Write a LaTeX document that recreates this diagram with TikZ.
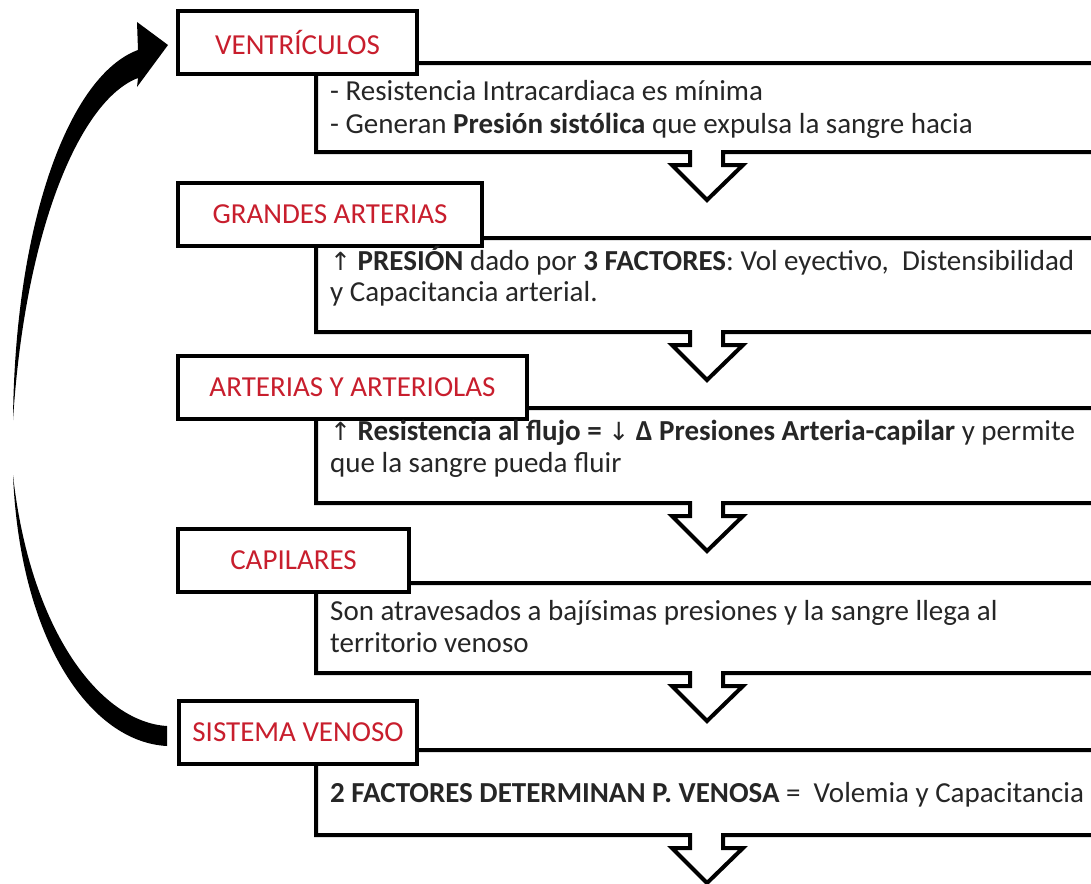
\documentclass[tikz,border=0pt]{standalone}
\usepackage{fontspec}
\setmainfont{Carlito}
\newfontfamily\symfont{DejaVu Sans}
\definecolor{titlered}{RGB}{200,30,45}
\definecolor{bodytext}{RGB}{38,38,38}
\newcommand\flowpanel[2]{%
  \draw[frame] (1100,#1) -- (316,#1) -- (316,#2) -- (690,#2) -- (690,{#2+13}) -- (672,{#2+13})
    -- (707,{#2+48}) -- (743,{#2+13}) -- (723,{#2+13}) -- (723,#2) -- (1100,#2);}
\newcommand\up{{\symfont\fontsize{25}{33}\selectfont ↑}}
\newcommand\down{{\symfont\fontsize{25}{33}\selectfont ↓}}
\begin{document}
\begin{tikzpicture}[x=1pt,y=-1pt,
  titlebox/.style={draw, line width=4pt, fill=white, text=titlered,
    font=\fontsize{29}{33}\selectfont, minimum height=63pt, inner sep=0pt, anchor=north west},
  bodyline/.style={text=bodytext, font=\fontsize{29}{33}\selectfont, inner sep=0pt, anchor=base west},
  frame/.style={line width=4pt, line join=miter},
  loop/.style={fill=black, draw=none}]
\useasboundingbox (0,0) rectangle (1091,883);
\clip (0,0) rectangle (1091,883);
\fill[white] (0,0) rectangle (1091,883);

% panels with down arrows
\flowpanel{63}{152}
\flowpanel{238}{332}
\flowpanel{408}{503}
\flowpanel{583}{673}
\flowpanel{750}{835}

% title boxes
\node[titlebox, minimum width=239pt] (v1) at (176,9)   {VENTRÍCULOS};
\node[titlebox, minimum width=304pt] (v2) at (176,181) {GRANDES ARTERIAS};
\node[titlebox, minimum width=349pt] (v3) at (176,354) {ARTERIAS Y ARTERIOLAS};
\node[titlebox, minimum width=231pt] (v4) at (176,527) {CAPILARES};
\node[titlebox, minimum width=238pt] (v5) at (177,699) {SISTEMA VENOSO};

% body texts
\node[bodyline] (l1a) at (330,100) {- Resistencia Intracardiaca es mínima};
\node[bodyline] (l1b) at (330,133) {- Generan \textbf{Presión sistólica} que expulsa la sangre hacia};
\node[bodyline] (l2a) at (330,270) {\up\ \textbf{PRESIÓN} dado por \textbf{3 FACTORES}: Vol eyectivo,\ \ Distensibilidad};
\node[bodyline] (l2b) at (330,301) {y Capacitancia arterial.};
\node[bodyline] (l3a) at (330,440) {\up\ \textbf{Resistencia al flujo = }\down\ \textbf{Δ Presiones Arteria-capilar} y permite};
\node[bodyline] (l3b) at (330,472) {que la sangre pueda fluir};
\node[bodyline] (l4a) at (330,620) {Son atravesados a bajísimas presiones y la sangre llega al};
\node[bodyline] (l4b) at (330,652) {territorio venoso};
\node[bodyline] (l5a) at (330,802) {\textbf{2 FACTORES DETERMINAN P. VENOSA} =\ \ Volemia y Capacitancia};

% return loop from SISTEMA VENOSO to VENTRICULOS
\path[loop] (13,420) .. controls (15,220) and (70,75) .. (138,50) -- (137,22) -- (168,45)
  -- (137,87) -- (138,78) .. controls (80,100) and (25,230) .. (13,420) -- cycle;
\path[loop] (13,475) .. controls (20,640) and (90,742) .. (167,746) -- (167,726)
  .. controls (100,722) and (30,630) .. (13,475) -- cycle;
\end{tikzpicture}
\end{document}
